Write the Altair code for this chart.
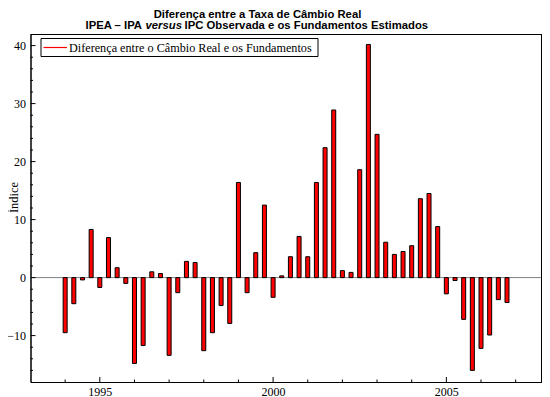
import altair as alt
import pandas as pd

# ---- data -------------------------------------------------------------
years = list(range(1994, 2007))
quarters = [1, 2, 3, 4]
valores = [
    -9.5, -4.5, -0.4, 8.3,
    -1.7, 6.9, 1.7, -1.0,
    -14.8, -11.7, 1.0, 0.7,
    -13.4, -2.6, 2.8, 2.6,
    -12.6, -9.5, -4.8, -7.9,
    16.4, -2.6, 4.3, 12.5,
    -3.4, 0.3, 3.6, 7.1,
    3.6, 16.4, 22.4, 28.9,
    1.2, 0.9, 18.6, 40.2,
    24.7, 6.1, 4.0, 4.5,
    5.5, 13.6, 14.5, 8.8,
    -2.8, -0.5, -7.2, -16.0,
    -12.2, -9.9, -3.8, -4.3,
]
serie_nome = "Diferença entre o Câmbio Real e os Fundamentos"
x_major = [1995, 2000, 2005]
x_minor = [1994, 1996, 1997, 1998, 1999, 2001, 2002, 2003, 2004, 2006, 2007]
y_major = [-10, 0, 10, 20, 30, 40]
y_minor = [-16, -14, -12, -8, -6, -4, -2, 2, 4, 6, 8, 12, 14, 16, 18,
           22, 24, 26, 28, 32, 34, 36, 38]
titulo1 = "Diferença entre a Taxa de Câmbio Real"
titulo2a = "IPEA – IPA"
titulo2b = "versus"
titulo2c = "IPC Observada e os Fundamentos Estimados"

df = pd.DataFrame({
    "t": [y + (q - 1) / 4 for y in years for q in quarters],
    "v": valores,
})
one = pd.DataFrame({"k": [0], "z": [0]})

W, H = 511.5, 348
SERIF = "Liberation Serif"
SANS = "Liberation Sans"

xs = alt.Scale(domain=[1993, 2007.76], nice=False, zero=False, padding=0)
ys = alt.Scale(domain=[-18, 42], nice=False, zero=False, padding=0)
ax_x = alt.Axis(values=x_major, format="d", title=None, ticks=False, grid=False,
                labelFont=SERIF, labelFontSize=12, labelColor="black",
                labelPadding=4, domainColor="black")
ax_y = alt.Axis(values=y_major, format="d", title="Índice", ticks=False, grid=False,
                labelFont=SERIF, labelFontSize=12, labelColor="black",
                labelPadding=5, domainColor="black",
                titleFont=SERIF, titleFontSize=12.5, titleFontWeight="normal",
                titleColor="black", titleX=-13, titleY=163, titleAlign="center",
                titleAngle=270, titleBaseline="alphabetic")


def X(field):
    return alt.X(field, type="quantitative", scale=xs, axis=ax_x)


def Y(field):
    return alt.Y(field, type="quantitative", scale=ys, axis=ax_y)


zero = alt.Chart(one).mark_rule(color="#808080", strokeWidth=1).encode(y=Y("z"))

bars = alt.Chart(df).mark_bar(
    size=4, fill="red", stroke="black", strokeWidth=1, orient="vertical"
).encode(x=X("t"), y=Y("v"), y2=alt.datum(0))

ymaj = alt.Chart(pd.DataFrame({"m": y_major})).mark_rule(color="black").encode(
    y=Y("m"), x=alt.value(0), x2=alt.value(5))
ymin = alt.Chart(pd.DataFrame({"m": y_minor})).mark_rule(color="black").encode(
    y=Y("m"), x=alt.value(0), x2=alt.value(2.5))
xmaj = alt.Chart(pd.DataFrame({"m": x_major})).mark_rule(color="black").encode(
    x=X("m"), y=alt.value(H), y2=alt.value(H - 5))
xmin = alt.Chart(pd.DataFrame({"m": x_minor})).mark_rule(color="black").encode(
    x=X("m"), y=alt.value(H), y2=alt.value(H - 2.5))

# frame (top and right edges of the plot box)
frame_top = alt.Chart(one).mark_rule(color="black", strokeWidth=1).encode(
    x=alt.value(0), x2=alt.value(W), y=alt.value(0.5))
frame_right = alt.Chart(one).mark_rule(color="black", strokeWidth=1).encode(
    x=alt.value(W - 0.5), y=alt.value(0), y2=alt.value(H))

# legend box
leg_box = alt.Chart(one).mark_rect(fill="white", stroke="black", strokeWidth=1).encode(
    x=alt.value(10.5), x2=alt.value(287.5), y=alt.value(4.5), y2=alt.value(22.5))
leg_line = alt.Chart(one).mark_rule(color="red", strokeWidth=1.2).encode(
    x=alt.value(13), x2=alt.value(36.5), y=alt.value(13.5))
leg_text = alt.Chart(one).mark_text(
    text=serie_nome, align="left", baseline="middle", font=SERIF, fontSize=12.2,
    color="black").encode(x=alt.value(38.5), y=alt.value(13.5))


def txt(s, x, y, align, italic=False):
    return alt.Chart(one).mark_text(
        text=s, align=align, baseline="alphabetic", font=SANS, fontSize=11.3,
        fontWeight="bold", fontStyle="italic" if italic else "normal", color="black"
    ).encode(x=alt.value(x), y=alt.value(y))


titles = [
    txt(titulo1, 227, -16.5, "center"),
    txt(titulo2a, 55, -5.5, "left"),
    txt(titulo2b, 115, -5.5, "left", italic=True),
    txt(titulo2c, 154, -5.5, "left"),
]

chart = alt.layer(
    zero, bars, ymaj, ymin, xmaj, xmin, frame_top, frame_right,
    leg_box, leg_line, leg_text, *titles
).properties(
    width=W, height=H,
    autosize=alt.AutoSizeParams(type="none"),
    padding={"left": 22.5, "top": 26, "right": 0, "bottom": 15},
).configure_view(stroke="black", strokeWidth=1)

chart.save("out.html", embed_options={"renderer": "svg", "actions": False})
